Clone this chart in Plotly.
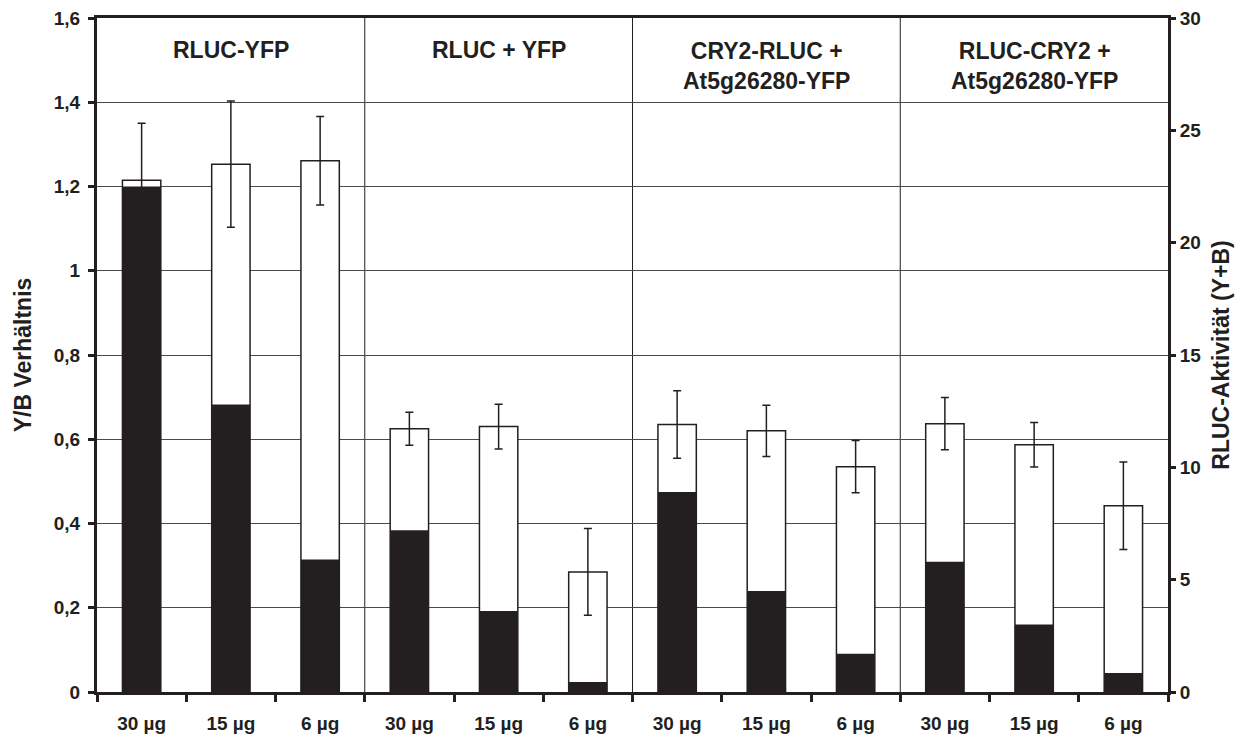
import plotly.graph_objects as go

# ---- data ----
dose_labels = ["30 µg", "15 µg", "6 µg", "30 µg", "15 µg", "6 µg",
               "30 µg", "15 µg", "6 µg", "30 µg", "15 µg", "6 µg"]
group_labels = ["RLUC-YFP", "RLUC + YFP",
                "CRY2-RLUC +<br>At5g26280-YFP", "RLUC-CRY2 +<br>At5g26280-YFP"]
yb_ratio = [1.215, 1.253, 1.261, 0.625, 0.630, 0.285, 0.635, 0.620, 0.535, 0.637, 0.587, 0.442]
yb_error = [0.135, 0.150, 0.105, 0.039, 0.053, 0.103, 0.080, 0.061, 0.062, 0.062, 0.053, 0.104]
rluc_activity = [22.5, 12.8, 5.9, 7.2, 3.6, 0.45, 8.9, 4.5, 1.7, 5.8, 3.0, 0.85]

x_pos = list(range(len(dose_labels)))
INK = "#231f20"
FONT = "Liberation Sans, Arial, sans-serif"

fig = go.Figure()

fig.add_trace(go.Bar(
    x=x_pos, y=yb_ratio, width=0.43,
    marker=dict(color="white", line=dict(color=INK, width=1.5)),
    error_y=dict(type="data", array=yb_error, color=INK, thickness=1.5, width=4),
    xaxis="x", yaxis="y", showlegend=False,
))
fig.add_trace(go.Bar(
    x=x_pos, y=rluc_activity, width=0.43,
    marker=dict(color=INK, line=dict(color=INK, width=0)),
    xaxis="x", yaxis="y2", showlegend=False,
))

# group separators
for g in range(1, len(group_labels)):
    fig.add_shape(type="line", xref="x", yref="paper",
                  x0=g * 3 - 0.5, x1=g * 3 - 0.5, y0=0, y1=1,
                  line=dict(color=INK, width=1), layer="below")

# group titles
for g, lab in enumerate(group_labels):
    two = "<br>" in lab
    fig.add_annotation(x=g * 3 + 1, xref="x", yref="paper",
                       y=0.9295 if two else 0.9525, yanchor="middle",
                       text=lab, showarrow=False,
                       font=dict(family=FONT, size=23, color=INK, weight="bold"))

fig.update_layout(
    width=1238, height=736,
    margin=dict(l=97, r=70, t=18, b=44, autoexpand=False),
    paper_bgcolor="white", plot_bgcolor="white",
    barmode="overlay", separators=",.",
    font=dict(family=FONT, color=INK),
    xaxis=dict(
        range=[-0.5, 11.5], tickmode="array", tickvals=x_pos, ticktext=dose_labels,
        ticks="outside", ticklen=0, ticklabelstandoff=12,
        tickfont=dict(family=FONT, size=19, color=INK, weight="bold"),
        showline=True, linecolor=INK, linewidth=3, mirror=True,
        showgrid=False, zeroline=False,
        minor=dict(tickmode="linear", tick0=-0.5, dtick=1, ticks="outside",
                   ticklen=7, tickwidth=3, tickcolor=INK, showgrid=False),
    ),
    yaxis=dict(
        range=[0, 1.6], dtick=0.2, tick0=0,
        ticks="outside", ticklen=6, tickwidth=2.5, tickcolor=INK,
        ticklabelstandoff=4,
        tickfont=dict(family=FONT, size=19, color=INK, weight="bold"),
        showline=True, linecolor=INK, linewidth=3,
        showgrid=True, gridcolor="#4a4a4a", gridwidth=1, zeroline=False,
        title=dict(text="Y/B Verhältnis", standoff=16,
                   font=dict(family=FONT, size=23, color=INK, weight="bold")),
    ),
    yaxis2=dict(
        range=[0, 30], dtick=5, tick0=0, overlaying="y", side="right",
        ticks="outside", ticklen=5, tickwidth=2.5, tickcolor=INK,
        ticklabelstandoff=0,
        tickfont=dict(family=FONT, size=19, color=INK, weight="bold"),
        showline=True, linecolor=INK, linewidth=3,
        showgrid=False, zeroline=False,
        title=dict(text="RLUC-Aktivität (Y+B)", standoff=13,
                   font=dict(family=FONT, size=23, color=INK, weight="bold")),
    ),
    yaxis3=dict(
        range=[0, 30], dtick=5, tick0=0, overlaying="y", side="right", anchor="x",
        ticks="inside", ticklen=5, tickwidth=2.5, tickcolor=INK,
        showticklabels=False, showline=False, showgrid=False, zeroline=False,
    ),
)

fig.write_html("out.html")
